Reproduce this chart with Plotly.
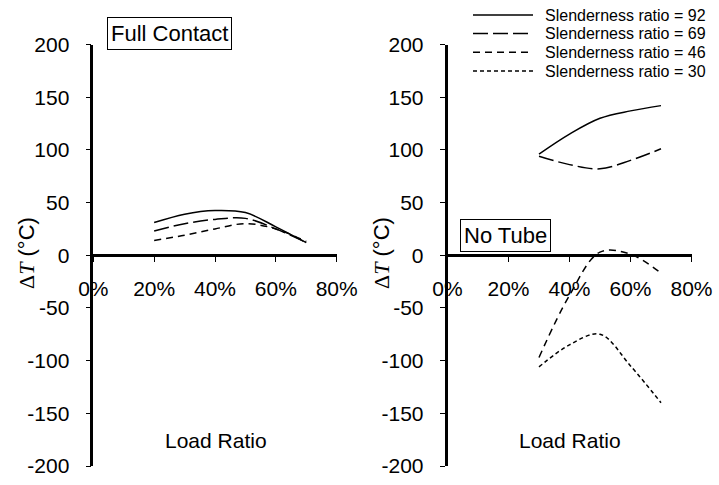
import plotly.graph_objects as go

# ---------------- data ----------------
series_names = ["Slenderness ratio = 92", "Slenderness ratio = 69",
                "Slenderness ratio = 46", "Slenderness ratio = 30"]

load_full = [0.2, 0.3, 0.4, 0.5, 0.6, 0.7]
full_92 = [31, 39, 42.5, 40.5, 27, 12]
full_69 = [23, 30, 34, 35, 25, 12]
full_46 = [14, 19, 25, 30, 25, 13]

load_notube = [0.3, 0.4, 0.5, 0.6, 0.7]
notube_92 = [96, 115, 130, 137, 142]
notube_69 = [94, 86, 82, 90, 101]
notube_46 = [-97, -38, 3, 1, -17]
notube_30 = [-106, -85, -75, -105, -140]

x_ticks = [0, 0.2, 0.4, 0.6, 0.8]
x_ticktext = ["0%", "20%", "40%", "60%", "80%"]
y_ticks = [-200, -150, -100, -50, 0, 50, 100, 150, 200]
y_ticktext = ["-200", "-150", "-100", "-50", "0", "50", "100", "150", "200"]

# ---------------- styles ----------------
W, H = 719, 485
dashes = ["solid", "15px,5px", "7px,5px", "4px,3px"]
SANS = "Liberation Sans, Arial, sans-serif"


def px(x):
    return x / W


def py(y):
    return 1 - y / H


fig = go.Figure()

for yv, nm, ds in zip([full_92, full_69, full_46], series_names[:3], dashes[:3]):
    fig.add_trace(go.Scatter(x=load_full, y=yv, mode="lines", name=nm,
                             line=dict(color="black", width=1.5, dash=ds, shape="spline"),
                             xaxis="x", yaxis="y", showlegend=False))

for yv, nm, ds in zip([notube_92, notube_69, notube_46, notube_30], series_names, dashes):
    fig.add_trace(go.Scatter(x=load_notube, y=yv, mode="lines", name=nm,
                             line=dict(color="black", width=1.5, dash=ds, shape="spline"),
                             xaxis="x2", yaxis="y2", showlegend=False))

ydom = [py(466), py(44.5)]
ymid = (ydom[0] + ydom[1]) / 2

xcommon = dict(range=[0, 0.8], tickvals=x_ticks, ticktext=x_ticktext,
               showgrid=False, zeroline=False, showline=True, linecolor="black",
               linewidth=2.5, ticks="outside", ticklen=5, tickwidth=1.2, tickcolor="black",
               tickfont=dict(family=SANS, size=21, color="black"),
               anchor="free", position=ymid, ticklabelstandoff=9, automargin=False)
ycommon = dict(range=[-200, 200], tickvals=y_ticks, ticktext=y_ticktext,
               showgrid=False, zeroline=False,
               showline=True, linecolor="black", linewidth=2.5, ticks="outside",
               ticklen=5, tickwidth=1.2, tickcolor="black",
               tickfont=dict(family=SANS, size=21, color="black"),
               domain=ydom, ticklabelstandoff=12, automargin=False)

fig.update_layout(
    width=W, height=H,
    margin=dict(l=0, r=0, t=0, b=0, pad=0, autoexpand=False),
    paper_bgcolor="white", plot_bgcolor="white",
    showlegend=False,
    xaxis=dict(domain=[px(93.3), px(336.7)], **xcommon),
    yaxis=dict(anchor="x", **ycommon),
    xaxis2=dict(domain=[px(447.5), px(691.5)], **xcommon),
    yaxis2=dict(anchor="x2", **ycommon),
)

annotations = []
box_common = dict(xref="paper", yref="paper", xanchor="center", yanchor="middle",
                  showarrow=False, font=dict(family=SANS, size=22, color="black"),
                  bordercolor="black", borderwidth=1, borderpad=3, bgcolor="white")
annotations.append(dict(text="Full Contact", x=px(169.7), y=py(33.3), **box_common))
annotations.append(dict(text="No Tube", x=px(505), y=py(235), **box_common))
# x titles
for cx in [216, 570]:
    annotations.append(dict(text="Load Ratio", x=px(cx), y=py(440), xref="paper", yref="paper",
                            xanchor="center", yanchor="middle",
                            showarrow=False, font=dict(family=SANS, size=21, color="black")))
# y titles
ytitle = ('<span style="font-family:Liberation Serif, Times New Roman, serif">Δ<i>T</i></span>'
          ' (°C)')
for cx in [26, 381]:
    annotations.append(dict(text=ytitle, x=px(cx), y=py(253), xref="paper", yref="paper",
                            xanchor="center", yanchor="middle",
                            textangle=-90, showarrow=False,
                            font=dict(family=SANS, size=22, color="black")))

# legend (drawn manually for long line samples)
shapes = []
leg_rows = [15, 33.5, 52.3, 71]
for nm, ds, ry in zip(series_names, dashes, leg_rows):
    shapes.append(dict(type="line", xref="paper", yref="paper",
                       x0=px(473), x1=px(533), y0=py(ry), y1=py(ry),
                       line=dict(color="black", width=1.5, dash=ds)))
    annotations.append(dict(text=nm, x=px(543), y=py(ry), xref="paper", yref="paper",
                            xanchor="left", yanchor="middle", showarrow=False,
                            font=dict(family=SANS, size=16, color="black")))

fig.update_layout(annotations=annotations, shapes=shapes)

fig.write_html("out.html")
